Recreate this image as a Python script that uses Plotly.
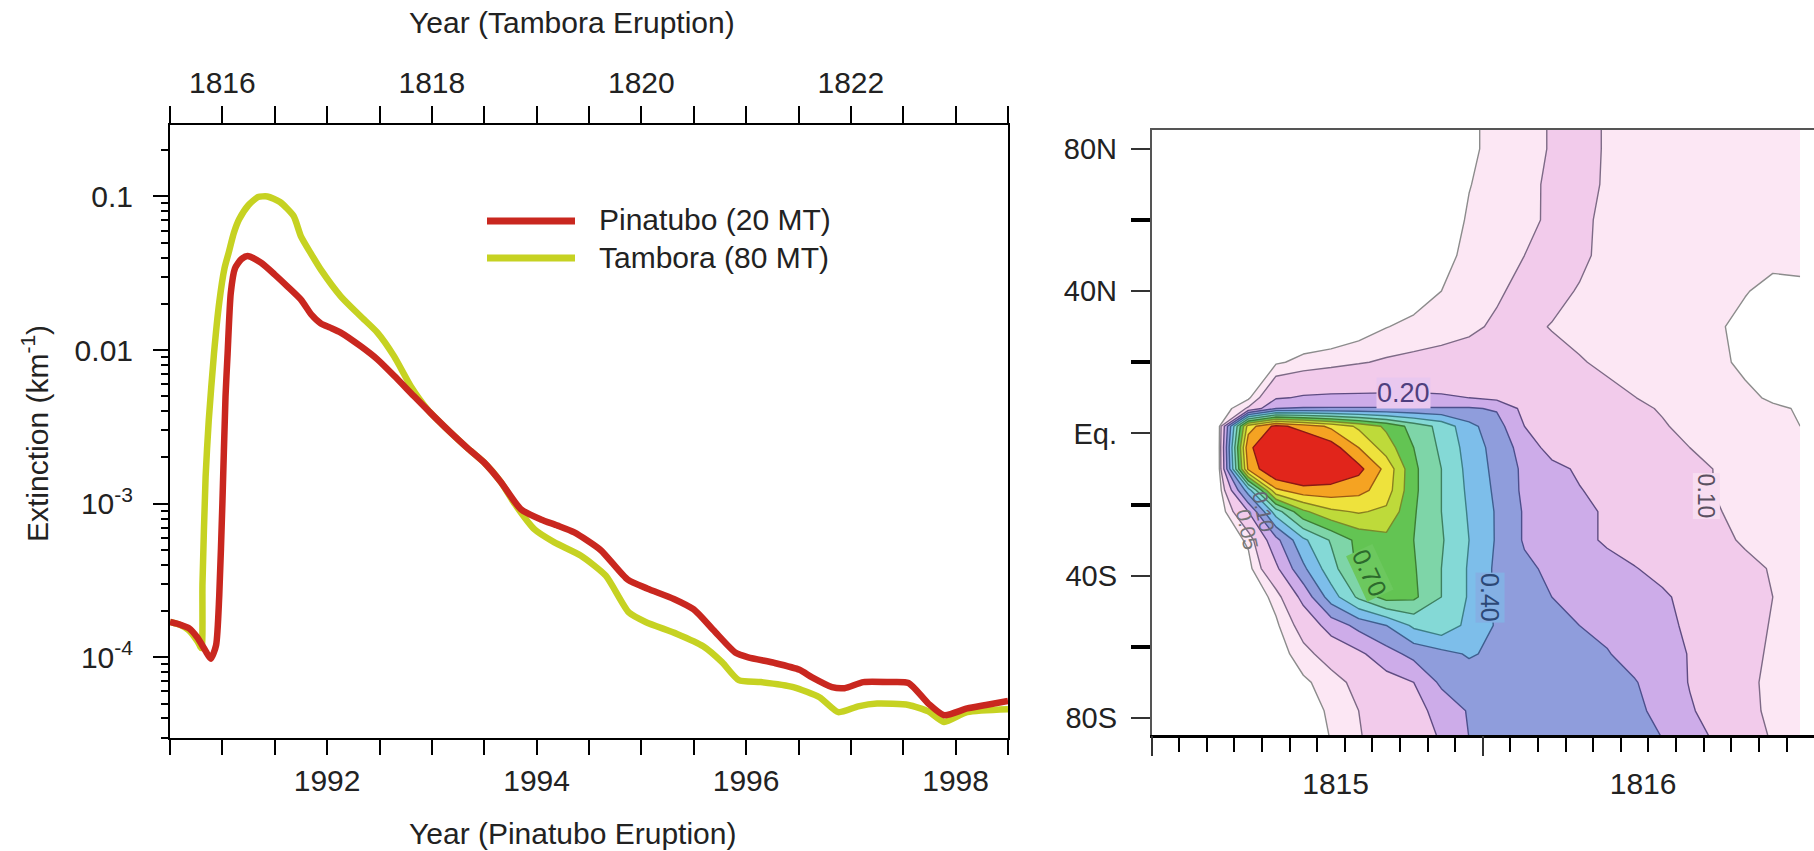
import plotly.graph_objects as go

# ---------------- left panel: stratospheric aerosol extinction ----------------
pin_year = [1990.50, 1990.60, 1990.68, 1990.76, 1990.84, 1990.89, 1990.94, 1990.97, 1991.00,
            1991.03, 1991.05, 1991.08, 1991.12, 1991.18, 1991.24, 1991.37, 1991.50, 1991.62,
            1991.75, 1991.85, 1991.94, 1992.03, 1992.13, 1992.32, 1992.48, 1992.64, 1992.83,
            1993.02, 1993.18, 1993.34, 1993.50, 1993.66, 1993.85, 1994.04, 1994.20, 1994.36,
            1994.61, 1994.87, 1995.06, 1995.31, 1995.50, 1995.69, 1995.90, 1996.02, 1996.27,
            1996.51, 1996.63, 1996.82, 1996.94, 1997.12, 1997.37, 1997.55, 1997.74, 1997.89,
            1998.11, 1998.29, 1998.50]
pin_ext = [1.70e-4, 1.63e-4, 1.55e-4, 1.35e-4, 1.10e-4, 9.8e-5, 1.2e-4, 2.5e-4, 1.0e-3,
           5.0e-3, 0.0095, 0.0235, 0.034, 0.039, 0.041, 0.037, 0.031, 0.026,
           0.0213, 0.0170, 0.0149, 0.0140, 0.0130, 0.0106, 0.0087, 0.0068, 0.0050,
           0.0037, 0.0029, 0.0023, 1.85e-3, 1.38e-3, 9.2e-4, 7.9e-4, 7.2e-4, 6.5e-4,
           5.0e-4, 3.2e-4, 2.8e-4, 2.4e-4, 2.05e-4, 1.5e-4, 1.07e-4, 1.0e-4, 9.2e-5,
           8.3e-5, 7.4e-5, 6.4e-5, 6.3e-5, 6.9e-5, 6.9e-5, 6.8e-5, 5.0e-5, 4.2e-5,
           4.65e-5, 4.9e-5, 5.2e-5]

tam_year = [1990.50, 1990.60, 1990.68, 1990.76, 1990.80, 1990.81, 1990.84, 1990.87, 1990.92,
            1990.97, 1991.02, 1991.06, 1991.11, 1991.16, 1991.25, 1991.34, 1991.43, 1991.55,
            1991.68, 1991.75, 1991.85, 1991.94, 1992.13, 1992.32, 1992.48, 1992.64, 1992.80,
            1992.96, 1993.18, 1993.34, 1993.50, 1993.66, 1993.79, 1993.98, 1994.17, 1994.42,
            1994.66, 1994.88, 1995.04, 1995.34, 1995.59, 1995.77, 1995.93, 1996.14, 1996.45,
            1996.70, 1996.88, 1997.07, 1997.25, 1997.55, 1997.74, 1997.89, 1998.11, 1998.50]
tam_ext = [1.70e-4, 1.62e-4, 1.50e-4, 1.28e-4, 1.15e-4, 3.0e-4, 1.5e-3, 3.5e-3, 0.0095,
           0.0204, 0.034, 0.043, 0.058, 0.071, 0.088, 0.099, 0.100, 0.092,
           0.0745, 0.055, 0.042, 0.0334, 0.0224, 0.0166, 0.013, 0.0091, 0.0058,
           0.0041, 0.0029, 0.0023, 1.85e-3, 1.38e-3, 1.0e-3, 6.8e-4, 5.6e-4, 4.6e-4,
           3.4e-4, 1.96e-4, 1.7e-4, 1.42e-4, 1.18e-4, 9.3e-5, 7.1e-5, 6.9e-5, 6.4e-5,
           5.5e-5, 4.4e-5, 4.8e-5, 5.0e-5, 4.9e-5, 4.45e-5, 3.8e-5, 4.4e-5, 4.6e-5]

pin_range = [1990.5, 1998.5]
tam_range = [1815.5, 1823.5]
pin_ticks = [1992, 1994, 1996, 1998]
tam_ticks = [1816, 1818, 1820, 1822]
ext_ticks = [1e-4, 1e-3, 1e-2, 1e-1]
ext_ticktext = ["10<sup>-4</sup>", "10<sup>-3</sup>", "0.01", "0.1"]

# ---------------- right panel: zonal-mean aerosol optical depth ----------------
od_time = [1814.617, 1814.716, 1814.806, 1814.895, 1814.985, 1815.075, 1815.165, 1815.254,
           1815.344, 1815.434, 1815.524, 1815.614, 1815.703, 1815.793, 1815.883, 1815.973,
           1816.063, 1816.152, 1816.242, 1816.332, 1816.422, 1816.511]
od_lat = [86, 80, 70, 60, 50, 40, 30, 20, 10, 7, 2, -4, -10, -16, -22, -30, -38, -46,
          -54, -62, -70, -78, -86]
od = [
    [0, 0, 0, 0, 0, 0, 0, 0, 0.01, 0.04, 0.066, 0.082, 0.104, 0.13, 0.092, 0.08, 0.075, 0.072, 0.07, 0.068, 0.066, 0.065],
    [0, 0, 0, 0, 0, 0, 0, 0, 0.01, 0.04, 0.066, 0.082, 0.104, 0.13, 0.092, 0.08, 0.075, 0.072, 0.07, 0.068, 0.066, 0.065],
    [0, 0, 0, 0, 0, 0, 0, 0, 0.015, 0.048, 0.07, 0.088, 0.108, 0.128, 0.09, 0.08, 0.076, 0.073, 0.071, 0.069, 0.067, 0.066],
    [0, 0, 0, 0, 0, 0, 0, 0, 0.02, 0.056, 0.075, 0.09, 0.107, 0.125, 0.075, 0.074, 0.073, 0.071, 0.07, 0.068, 0.066, 0.065],
    [0, 0, 0, 0, 0, 0, 0, 0.01, 0.035, 0.062, 0.08, 0.1, 0.12, 0.115, 0.08, 0.075, 0.07, 0.065, 0.062, 0.058, 0.055, 0.06],
    [0, 0, 0, 0, 0, 0, 0, 0.02, 0.05, 0.075, 0.093, 0.115, 0.12, 0.095, 0.08, 0.072, 0.066, 0.06, 0.056, 0.051, 0.045, 0.043],
    [0, 0, 0, 0, 0, 0.02, 0.048, 0.065, 0.078, 0.09, 0.108, 0.115, 0.097, 0.085, 0.075, 0.067, 0.061, 0.056, 0.052, 0.045, 0.043, 0.042],
    [0, 0.01, 0.042, 0.065, 0.08, 0.095, 0.108, 0.115, 0.12, 0.125, 0.13, 0.13, 0.12, 0.104, 0.09, 0.075, 0.065, 0.058, 0.053, 0.047, 0.044, 0.043],
    [0, 0.04, 0.19, 0.21, 0.215, 0.215, 0.215, 0.215, 0.21, 0.2, 0.175, 0.16, 0.145, 0.13, 0.115, 0.101, 0.085, 0.07, 0.06, 0.053, 0.048, 0.046],
    [0, 0.11, 0.3, 0.31, 0.31, 0.31, 0.31, 0.31, 0.31, 0.31, 0.29, 0.17, 0.155, 0.14, 0.125, 0.112, 0.095, 0.08, 0.066, 0.057, 0.052, 0.049],
    [0, 0.95, 1.13, 1.06, 0.98, 0.88, 0.78, 0.66, 0.57, 0.43, 0.34, 0.2, 0.17, 0.15, 0.13, 0.12, 0.105, 0.085, 0.07, 0.06, 0.055, 0.05],
    [0, 1.08, 1.2, 1.22, 1.15, 1.0, 0.85, 0.7, 0.58, 0.46, 0.36, 0.26, 0.16, 0.145, 0.13, 0.12, 0.11, 0.1, 0.088, 0.075, 0.065, 0.06],
    [0, 1.02, 1.22, 1.25, 1.2, 1.13, 0.97, 0.72, 0.6, 0.47, 0.37, 0.28, 0.23, 0.185, 0.155, 0.135, 0.12, 0.11, 0.098, 0.085, 0.075, 0.068],
    [0, 0.45, 0.98, 1.06, 1.06, 1.03, 0.95, 0.72, 0.6, 0.48, 0.38, 0.28, 0.235, 0.205, 0.17, 0.145, 0.13, 0.112, 0.098, 0.088, 0.078, 0.07],
    [0, 0.2, 0.55, 0.78, 0.88, 0.91, 0.88, 0.71, 0.6, 0.49, 0.39, 0.29, 0.25, 0.22, 0.19, 0.16, 0.14, 0.12, 0.102, 0.09, 0.08, 0.072],
    [0, 0.06, 0.27, 0.48, 0.61, 0.73, 0.77, 0.7, 0.61, 0.5, 0.39, 0.29, 0.25, 0.22, 0.19, 0.17, 0.15, 0.13, 0.11, 0.095, 0.085, 0.077],
    [0, 0.03, 0.18, 0.38, 0.56, 0.72, 0.76, 0.71, 0.6, 0.49, 0.38, 0.32, 0.28, 0.25, 0.225, 0.203, 0.18, 0.155, 0.13, 0.11, 0.097, 0.088],
    [0, 0, 0.07, 0.23, 0.45, 0.62, 0.74, 0.72, 0.6, 0.49, 0.38, 0.33, 0.3, 0.27, 0.25, 0.23, 0.21, 0.18, 0.15, 0.125, 0.1, 0.09],
    [0, 0, 0.04, 0.13, 0.24, 0.33, 0.4, 0.52, 0.57, 0.47, 0.39, 0.35, 0.32, 0.3, 0.28, 0.25, 0.215, 0.19, 0.16, 0.125, 0.095, 0.085],
    [0, 0, 0.02, 0.08, 0.13, 0.18, 0.26, 0.33, 0.37, 0.41, 0.38, 0.36, 0.34, 0.32, 0.305, 0.27, 0.24, 0.195, 0.16, 0.12, 0.09, 0.08],
    [0, 0, 0, 0.04, 0.075, 0.12, 0.16, 0.2, 0.32, 0.35, 0.36, 0.36, 0.355, 0.35, 0.33, 0.305, 0.26, 0.195, 0.155, 0.115, 0.085, 0.075],
    [0, 0, 0, 0.02, 0.06, 0.1, 0.135, 0.17, 0.23, 0.31, 0.34, 0.35, 0.35, 0.345, 0.335, 0.315, 0.28, 0.21, 0.16, 0.12, 0.085, 0.075],
    [0, 0, 0, 0.01, 0.052, 0.095, 0.13, 0.165, 0.205, 0.3, 0.33, 0.34, 0.345, 0.34, 0.33, 0.315, 0.3, 0.23, 0.19, 0.13, 0.095, 0.085],
]
od_levels = [0.05, 0.10, 0.20, 0.30, 0.40, 0.50, 0.60, 0.70, 0.80, 0.90, 1.00, 1.10]
od_fill = ["#FCE7F4", "#F2CBEB", "#CDACE9", "#8F9DDC", "#7DBEEA", "#84D9D6",
           "#7ED5A8", "#63C453", "#BEDA3A", "#EEE23C", "#F5A322", "#E1251B"]
od_line = ["#8c8c8c", "#7d6a86", "#5e4c82", "#4c4f8c", "#3f5f8f", "#3d7f86",
           "#3e8060", "#3d7d34", "#7a8a2a", "#8a8020", "#9a5a14", "#8a1a14"]

od_range_t = [1814.4014, 1816.556]
od_range_lat = [-84.8, 85.3]
lat_ticks = [80, 40, 0, -40, -80]
lat_minor = [60, 20, -20, -60]
lat_text = ["80N", "40N", "Eq.", "40S", "80S"]
year_ticks = [1815, 1816]

FONT = "Arial, 'Liberation Sans', Helvetica, sans-serif"
TXT = "#222222"
RED = "#C9271F"
YEL = "#C6D222"

fig = go.Figure()

fig.add_trace(go.Scatter(x=tam_year, y=tam_ext, mode="lines", name="Tambora (80 MT)",
                         line=dict(color=YEL, width=6.5, shape="spline", smoothing=0.6),
                         xaxis="x", yaxis="y", showlegend=False, hoverinfo="skip"))
fig.add_trace(go.Scatter(x=pin_year, y=pin_ext, mode="lines", name="Pinatubo (20 MT)",
                         line=dict(color=RED, width=6.5, shape="spline", smoothing=0.6),
                         xaxis="x", yaxis="y", showlegend=False, hoverinfo="skip"))

# invisible anchors so the overlaid axes (Tambora years, frame lines) get drawn
fig.add_trace(go.Scatter(x=tam_range, y=[1e-4, 1e-4], mode="markers", marker=dict(opacity=0),
                         xaxis="x2", yaxis="y", showlegend=False, hoverinfo="skip"))
for ax in ("x4", "x5"):
    fig.add_trace(go.Scatter(x=od_range_t, y=[0, 0], mode="markers", marker=dict(opacity=0),
                             xaxis=ax, yaxis="y3", showlegend=False, hoverinfo="skip"))

# stacked constraint contours: each shades the region above its level
for lvl, fc, lc in zip(od_levels, od_fill, od_line):
    fig.add_trace(go.Contour(
        x=od_time, y=od_lat, z=od,
        contours=dict(type="constraint", operation="<", value=lvl),
        fillcolor=fc, line=dict(color=lc, width=1.4, smoothing=0),
        showscale=False, hoverinfo="skip", xaxis="x3", yaxis="y3"))

axis_font = dict(family=FONT, size=30, color=TXT)

# panel domains (paper fractions of 1814 x 851)
L_X = [170 / 1814, 1008 / 1814]
L_Y = [1 - 738 / 851, 1 - 125 / 851]
R_X = [1151.6 / 1814, 1.0]
R_Y = [1 - 735 / 851, 1 - 130 / 851]

layout = dict(
    width=1814, height=851, autosize=False,
    margin=dict(l=0, r=0, t=0, b=0),
    paper_bgcolor="white", plot_bgcolor="white",
    font=dict(family=FONT, color=TXT),
    showlegend=False,
    xaxis=dict(domain=L_X, anchor="y", range=pin_range, tickmode="array",
               tickvals=pin_ticks, ticks="outside", ticklen=15, tickwidth=2, tickcolor="black",
               minor=dict(ticks="outside", ticklen=15, tickwidth=2, tickcolor="black",
                          tick0=1990.5, dtick=0.5),
               showline=True, linecolor="black", linewidth=2, showgrid=False, zeroline=False,
               tickfont=axis_font, ticklabelstandoff=0),
    xaxis2=dict(overlaying="x", side="top", anchor="y", range=tam_range,
                tickmode="array", tickvals=tam_ticks, ticks="outside", ticklen=10,
                tickwidth=2, tickcolor="black",
                minor=dict(ticks="outside", ticklen=17, tickwidth=2, tickcolor="black",
                           tick0=1815.5, dtick=0.5),
                showline=True, linecolor="black", linewidth=2, showgrid=False, zeroline=False,
                tickfont=axis_font, ticklabelstandoff=8),
    yaxis=dict(domain=L_Y, anchor="x", type="log", range=[-4.525, -0.535], tickmode="array",
               tickvals=ext_ticks, ticktext=ext_ticktext, ticks="outside", ticklen=15,
               tickwidth=2, tickcolor="black",
               minor=dict(ticks="outside", ticklen=7, tickwidth=2, tickcolor="black",
                          tickmode="array",
                          tickvals=[k * 10.0 ** e for e in range(-5, 0) for k in range(2, 10)]),
               showline=True, linecolor="black", linewidth=2, mirror=True,
               showgrid=False, zeroline=False, tickfont=axis_font, ticklabelstandoff=14),
    xaxis3=dict(domain=R_X, anchor="y3", range=od_range_t, tickmode="array",
                tickvals=year_ticks, ticks="",
                minor=dict(ticks="outside", ticklen=14, tickwidth=2, tickcolor="black",
                           tick0=1814.4014, dtick=0.08979),
                showline=True, linecolor="black", linewidth=3, showgrid=False, zeroline=False,
                tickfont=axis_font, ticklabelstandoff=20),
    xaxis4=dict(overlaying="x3", side="top", anchor="y3", range=od_range_t,
                showticklabels=False, ticks="", showline=True, linecolor="#555555",
                linewidth=1.5, showgrid=False, zeroline=False),
    xaxis5=dict(overlaying="x3", side="bottom", anchor="y3", range=od_range_t,
                tickmode="array", tickvals=[1814.4014, 1815.4789], ticks="outside",
                ticklen=20, tickwidth=1.5, tickcolor="#333333", showticklabels=False,
                showline=False, showgrid=False, zeroline=False),
    yaxis3=dict(domain=R_Y, anchor="x3", range=od_range_lat, tickmode="array",
                tickvals=lat_ticks, ticktext=lat_text, ticks="outside", ticklen=19,
                tickwidth=1.5, tickcolor="#333333",
                minor=dict(ticks="outside", ticklen=19, tickwidth=3.5, tickcolor="black",
                           tickmode="array", tickvals=lat_minor),
                showline=True, linecolor="#555555", linewidth=1.5, showgrid=False,
                zeroline=False, tickfont=dict(family=FONT, size=29, color=TXT),
                ticklabelstandoff=8),
)
fig.update_layout(**layout)

annotations = [
    dict(text="Year (Tambora Eruption)", x=572 / 1814, y=1 - 23 / 851, xref="paper", yref="paper",
         showarrow=False, font=axis_font, xanchor="center", yanchor="middle"),
    dict(text="Year (Pinatubo Eruption)", x=572 / 1814, y=1 - 833 / 851, xref="paper", yref="paper",
         showarrow=False, font=axis_font, xanchor="center", yanchor="middle"),
    dict(text="Extinction (km<sup>-1</sup>)", x=35 / 1814, y=1 - 434 / 851, xref="paper",
         yref="paper", showarrow=False, font=axis_font, textangle=-90,
         xanchor="center", yanchor="middle"),
    dict(text="Pinatubo (20 MT)", x=597 / 1814, y=1 - 219 / 851, xref="paper", yref="paper",
         showarrow=False, font=axis_font, xanchor="left", yanchor="middle"),
    dict(text="Tambora (80 MT)", x=597 / 1814, y=1 - 257 / 851, xref="paper", yref="paper",
         showarrow=False, font=axis_font, xanchor="left", yanchor="middle"),
]

# contour labels
clabels = [
    ("0.20", 1815.220, 11.4, 0, "#4e3f7e", "#E9C8EF", 27),
    ("0.10", 1816.206, -17.6, 90, "#5a5060", "#F8DDF1", 23),
    ("0.40", 1815.502, -46.3, 90, "#2c4876", "#84B0E4", 25),
    ("0.70", 1815.111, -39.3, 65, "#2c6a2c", "#6CC85E", 25),
    ("0.05", 1814.713, -27.0, 78, "#777777", "rgba(255,255,255,0)", 21),
    ("0.10", 1814.765, -22.0, 78, "#666677", "rgba(255,255,255,0)", 21),
]
for txt, xv, yv, ang, col, bg, fs in clabels:
    annotations.append(dict(text=txt, x=xv, y=yv, xref="x3", yref="y3", showarrow=False,
                            textangle=ang, font=dict(family=FONT, size=fs, color=col),
                            bgcolor=bg, borderpad=0))
fig.update_layout(annotations=annotations)

# legend samples
fig.add_shape(type="line", xref="paper", yref="paper", x0=487 / 1814, x1=575 / 1814,
              y0=1 - 221 / 851, y1=1 - 221 / 851, line=dict(color=RED, width=7))
fig.add_shape(type="line", xref="paper", yref="paper", x0=487 / 1814, x1=575 / 1814,
              y0=1 - 258 / 851, y1=1 - 258 / 851, line=dict(color=YEL, width=7))

fig.write_html("out.html")
